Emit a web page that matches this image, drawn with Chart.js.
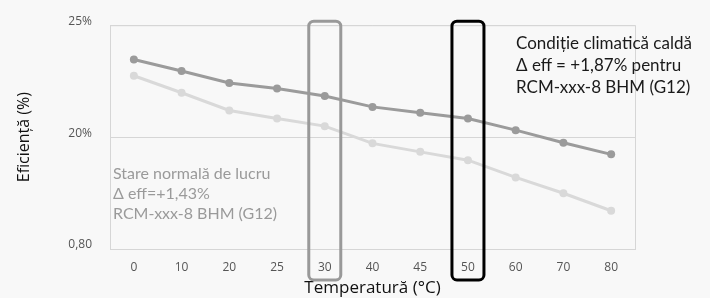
<!DOCTYPE html>
<html>
<head>
<meta charset="utf-8">
<script src="https://cdn.jsdelivr.net/npm/chart.js@4/dist/chart.umd.min.js"></script>
<style>
  html, body { margin: 0; padding: 0; background: #f8f8f8; }
  #wrap { position: relative; width: 710px; height: 298px; }
  canvas { display: block; }
  .note { position: absolute; font-family: Lato, "Open Sans", sans-serif; white-space: nowrap; }
  #note-hot { left: 516px; top: 32px; font-size: 17px; line-height: 22px; color: #1a1a1a; }
  #note-normal { left: 113px; top: 163px; font-size: 16px; line-height: 20px; color: #9a9a9a; }
</style>
</head>
<body>
<div id="wrap">
  <canvas id="chart" width="710" height="298"></canvas>
  <div class="note" id="note-hot">Condiție climatică caldă<br>Δ eff = +1,87% pentru<br>RCM-xxx-8 BHM (G12)</div>
  <div class="note" id="note-normal">Stare normală de lucru<br>Δ eff=+1,43%<br>RCM-xxx-8 BHM (G12)</div>
</div>
<script>
  var temperatures = ["0", "10", "20", "25", "30", "40", "45", "50", "60", "70", "80"];
  var effHot = [23.47, 22.95, 22.42, 22.17, 21.84, 21.35, 21.09, 20.83, 20.31, 19.75, 19.23];
  var effNormal = [22.74, 21.98, 21.19, 20.83, 20.49, 19.72, 19.34, 18.97, 18.20, 17.49, 16.71];
  var yTickValues = [15, 20, 25];
  var yTickLabels = ["0,80", "20%", "25%"];
  var highlightCats = ["30", "50"];

  var frameColor = "#d6d6d6";
  var highlightColors = ["#999999", "#000000"];

  // frame around plot area + rounded boxes on highlighted temperatures
  var framePlugin = {
    id: "frameAndBoxes",
    beforeDatasetsDraw: function (chart) {
      var ctx = chart.ctx, a = chart.chartArea;
      ctx.save();
      ctx.strokeStyle = frameColor;
      ctx.lineWidth = 1;
      ctx.strokeRect(a.left + 0.5, a.top + 0.5, a.right - a.left, a.bottom - a.top);
      ctx.restore();
    },
    afterDatasetsDraw: function (chart) {
      var ctx = chart.ctx, a = chart.chartArea, xs = chart.scales.x;
      ctx.save();
      ctx.lineWidth = 3;
      highlightCats.forEach(function (cat, i) {
        var cx = xs.getPixelForValue(temperatures.indexOf(cat));
        var w = 32, top = a.top - 4, bottom = a.bottom + 31;
        ctx.strokeStyle = highlightColors[i];
        ctx.beginPath();
        ctx.roundRect(cx - w / 2, top, w, bottom - top, 5);
        ctx.stroke();
      });
      ctx.restore();
    }
  };

  new Chart(document.getElementById("chart"), {
    type: "line",
    data: {
      labels: temperatures,
      datasets: [
        {
          label: "Condiție climatică caldă",
          data: effHot,
          borderColor: "#9b9b9b",
          backgroundColor: "#9b9b9b",
          borderWidth: 3,
          pointRadius: 4,
          pointBorderWidth: 0,
          tension: 0
        },
        {
          label: "Stare normală de lucru",
          data: effNormal,
          borderColor: "#d9d9d9",
          backgroundColor: "#d9d9d9",
          borderWidth: 3,
          pointRadius: 4,
          pointBorderWidth: 0,
          tension: 0
        }
      ]
    },
    options: {
      responsive: false,
      animation: false,
      layout: { padding: { left: 0, right: 75, top: 25, bottom: 0 } },
      plugins: { legend: { display: false }, tooltip: { enabled: false } },
      scales: {
        x: {
          offset: true,
          grid: { display: false, drawTicks: false },
          border: { display: false },
          ticks: { color: "#555", padding: 11, font: { family: "Open Sans", size: 12 } },
          title: {
            display: true,
            text: "Temperatură (°C)",
            color: "#111",
            font: { family: "Open Sans", size: 17 },
            padding: { top: 0, bottom: 0 }
          },
          afterFit: function (s) { s.height = 49; }
        },
        y: {
          min: 15,
          max: 25,
          afterBuildTicks: function (s) {
            s.ticks = yTickValues.map(function (v) { return { value: v }; });
          },
          grid: { color: frameColor, drawTicks: false },
          border: { display: false },
          ticks: {
            color: "#555",
            padding: 18,
            labelOffset: -4,
            font: { family: "Open Sans", size: 12 },
            callback: function (v) {
              var i = yTickValues.indexOf(v);
              return i >= 0 ? yTickLabels[i] : "";
            }
          },
          title: {
            display: true,
            text: "Eficiență (%)",
            color: "#111",
            font: { family: "Open Sans", size: 16 },
            padding: { top: 15, bottom: 0 }
          },
          afterFit: function (s) { s.width = 110; }
        }
      }
    },
    plugins: [framePlugin]
  });
</script>
</body>
</html>
